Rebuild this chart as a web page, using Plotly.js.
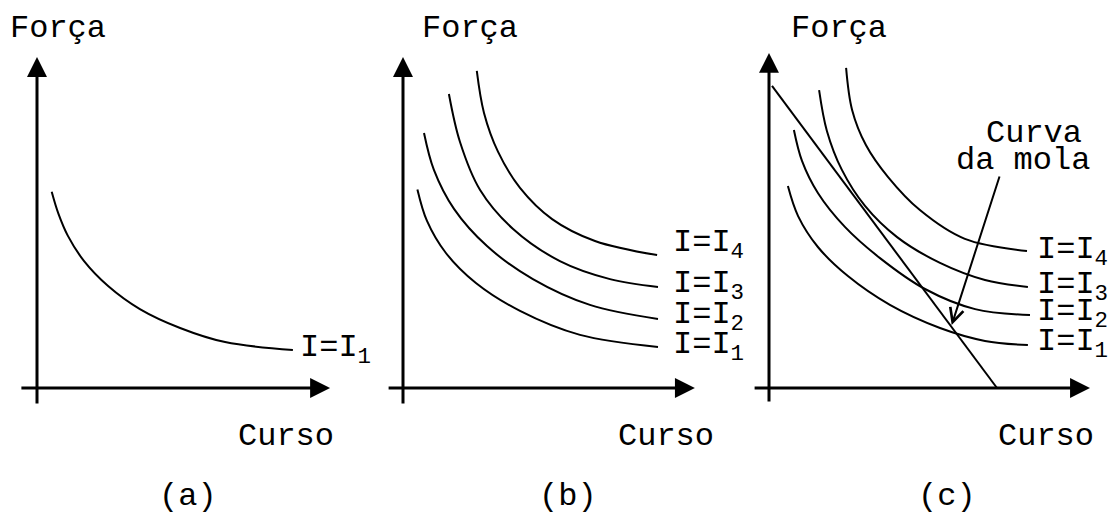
<!DOCTYPE html>
<html>
<head>
<meta charset="utf-8">
<script src="https://cdn.plot.ly/plotly-3.0.1.min.js"></script>
<style>
  html, body { margin: 0; padding: 0; background: #ffffff; }
  #chart { width: 1115px; height: 520px; }
</style>
</head>
<body>
<div id="chart"></div>
<script>
// ---- Data (Curso on x, Força on y, arbitrary units) ----

// (a) a single coil current
const cursoA  = [0.49, 0.71, 1.03, 1.57, 2.37, 3.43, 4.77, 6.27, 8.53];
const forcaA  = [6.54, 5.82, 5.07, 4.23, 3.40, 2.63, 2.00, 1.53, 1.27];

// (b) family of curves for four currents
const cursoB1 = [0.48, 0.80, 1.43, 2.43, 3.90, 5.90, 8.50];
const forcaB1 = [6.62, 5.57, 4.50, 3.50, 2.57, 1.77, 1.37];
const cursoB2 = [0.70, 1.03, 1.70, 2.80, 4.33, 6.23, 8.50];
const forcaB2 = [8.50, 7.27, 5.97, 4.73, 3.63, 2.77, 2.30];
const cursoB3 = [1.53, 1.90, 2.57, 3.67, 5.23, 6.90, 8.50];
const forcaB3 = [9.80, 8.20, 6.60, 5.30, 4.23, 3.63, 3.37];
const cursoB4 = [2.46, 2.70, 3.17, 3.90, 4.97, 6.40, 8.47];
const forcaB4 = [10.57, 9.17, 7.87, 6.67, 5.63, 4.90, 4.43];

// (c) same family plus the spring characteristic
const cursoC1 = [0.63, 0.97, 1.63, 2.63, 4.03, 5.70, 7.20, 8.63];
const forcaC1 = [6.73, 5.73, 4.70, 3.73, 2.77, 2.00, 1.57, 1.43];
const cursoC2 = [0.83, 1.10, 1.63, 2.53, 3.70, 5.20, 6.87, 8.70];
const forcaC2 = [8.60, 7.57, 6.50, 5.37, 4.33, 3.30, 2.63, 2.43];
const cursoC3 = [1.67, 1.93, 2.43, 3.20, 4.27, 5.70, 7.20, 8.63];
const forcaC3 = [9.93, 8.57, 7.27, 6.07, 5.03, 4.17, 3.60, 3.37];
const cursoC4 = [2.57, 2.77, 3.23, 3.97, 5.03, 6.53, 8.60];
const forcaC4 = [10.67, 9.27, 8.10, 7.03, 5.93, 4.97, 4.57];
const cursoMola = [0.10, 7.60];
const forcaMola = [10.07, 0.00];

// ---- Text ----
const yTitle = 'Força';
const xTitle = 'Curso';
const panelTags = ['(a)', '(b)', '(c)'];
const currentLabels = ['I=I<sub>1</sub>', 'I=I<sub>2</sub>', 'I=I<sub>3</sub>', 'I=I<sub>4</sub>'];
const springLabel = ['Curva', 'da mola'];

// ---- Layout helpers ----
const W = 1115, H = 520;
const PX = 30;                  // pixels per unit
const originX = [37, 403, 769]; // y-axis position of each panel (px)
const originY = 388;            // x-axis position (px)
const FONT = { family: '"Liberation Mono", "Courier New", monospace', size: 32, color: '#000' };

function xDomain(ox) { return [(ox - PX) / W, (ox + 11 * PX) / W]; }
const xRange = [-1, 11];
const yRange = [-(H - originY) / PX, originY / PX];   // full page height

function axis(domain, anchor, range) {
  return {
    domain: domain, anchor: anchor, range: range,
    showgrid: false, zeroline: false, showline: false,
    showticklabels: false, ticks: '', fixedrange: true
  };
}

function curve(x, y, n, w, shape) {
  const s = n > 1 ? n : '';
  return {
    type: 'scatter', mode: 'lines', x: x, y: y,
    xaxis: 'x' + s, yaxis: 'y' + s,
    line: { color: '#000', width: w || 2, shape: shape || 'spline', smoothing: 1 },
    hoverinfo: 'skip', showlegend: false, cliponaxis: false
  };
}

const traces = [
  curve(cursoA, forcaA, 1),
  curve(cursoB1, forcaB1, 2), curve(cursoB2, forcaB2, 2),
  curve(cursoB3, forcaB3, 2), curve(cursoB4, forcaB4, 2),
  curve(cursoC1, forcaC1, 3), curve(cursoC2, forcaC2, 3),
  curve(cursoC3, forcaC3, 3), curve(cursoC4, forcaC4, 3),
  curve(cursoMola, forcaMola, 3, 2, 'linear')
];

const annotations = [];
function text(n, x, y, t, xa, opts) {
  const s = n > 1 ? n : '';
  annotations.push(Object.assign({
    xref: 'x' + s, yref: 'y' + s, x: x, y: y, text: t,
    showarrow: false, xanchor: xa || 'center', yanchor: 'middle', font: FONT
  }, opts || {}));
}
function arrow(n, x, y, ax, ay, opts) {
  const s = n > 1 ? n : '';
  annotations.push(Object.assign({
    xref: 'x' + s, yref: 'y' + s, axref: 'x' + s, ayref: 'y' + s,
    x: x, y: y, ax: ax, ay: ay, text: '', showarrow: true,
    arrowhead: 2, arrowwidth: 3, arrowsize: 1.33, arrowcolor: '#000', standoff: 0
  }, opts || {}));
}

// axes with arrow heads: [yTip, yBottom, xLeft, xTip] in units
const axesExt = [
  [11.03, -0.57, -0.57, 9.77],
  [11.03, -0.57, -0.53, 9.73],
  [11.17, -0.50, -0.53, 10.70]
];
axesExt.forEach(function (e, i) {
  arrow(i + 1, 0, e[0], 0, e[1]);
  arrow(i + 1, e[3], 0, e[2], 0);
});

// axis names and panel tags
const forcaX = [0.70, 2.23, 2.33];
const cursoX = [8.30, 8.77, 9.23];
const tagX = [5.03, 5.50, 5.93];
for (let i = 0; i < 3; i++) {
  text(i + 1, forcaX[i], 12.00, yTitle);
  text(i + 1, cursoX[i], -1.60, xTitle);
  text(i + 1, tagX[i], -3.63, panelTags[i]);
}

// current labels
text(1, 8.70, 1.30, currentLabels[0], 'left');
const labYB = [1.37, 2.40, 3.43, 4.77];
const labYC = [1.47, 2.47, 3.40, 4.55];
for (let k = 0; k < 4; k++) {
  text(2, 8.93, labYB[k], currentLabels[k], 'left');
  text(3, 8.87, labYC[k], currentLabels[k], 'left');
}

// spring curve callout
text(3, 8.83, 8.50, springLabel[0]);
text(3, 8.47, 7.57, springLabel[1]);
arrow(3, 6.09, 2.10, 7.70, 7.10, { arrowhead: 5, arrowwidth: 2, arrowsize: 1.35 });

const layout = {
  width: W, height: H,
  margin: { l: 0, r: 0, t: 0, b: 0 },
  paper_bgcolor: '#fff', plot_bgcolor: 'rgba(0,0,0,0)',
  showlegend: false,
  xaxis: axis(xDomain(originX[0]), 'y', xRange),
  yaxis: axis([0, 1], 'x', yRange),
  xaxis2: axis(xDomain(originX[1]), 'y2', xRange),
  yaxis2: axis([0, 1], 'x2', yRange),
  xaxis3: axis(xDomain(originX[2]), 'y3', xRange),
  yaxis3: axis([0, 1], 'x3', yRange),
  annotations: annotations
};

Plotly.newPlot('chart', traces, layout, { displayModeBar: false, staticPlot: true });
</script>
</body>
</html>
